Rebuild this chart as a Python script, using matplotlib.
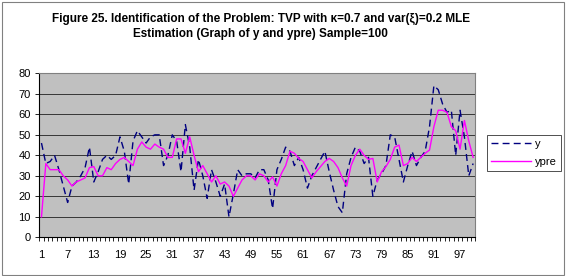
import matplotlib.pyplot as plt
import numpy as np
from matplotlib.patches import Rectangle

plt.rcParams["font.family"] = ["Liberation Sans", "DejaVu Sans"]

sample = np.arange(1, 101)

y = [46, 36, 37, 40, 33, 25, 17, 25, 27, 30,
     34, 44, 27, 32, 38, 40, 38, 40, 49, 42,
     26, 47, 52, 49, 46, 49, 50, 50, 35, 40,
     50, 47, 32, 55, 44, 23, 38, 30, 19, 33,
     27, 20, 26, 10, 21, 33, 30, 31, 31, 29,
     33, 33, 28, 14, 33, 38, 44, 42, 35, 39,
     33, 24, 30, 34, 38, 42, 32, 23, 15, 12,
     31, 39, 44, 42, 36, 39, 20, 28, 31, 35,
     50, 49, 38, 27, 35, 42, 35, 39, 42, 54,
     74, 72, 65, 61, 62, 40, 62, 49, 30, 36]

ypre = [10, 36, 33, 33, 33, 30, 28, 25, 27, 28,
        29, 34, 34.5, 30, 30, 34, 33, 36, 38, 39,
        37, 35, 43, 46.5, 44, 43, 45.5, 44, 43, 39,
        39, 48, 48, 41, 49, 40, 32, 35, 31, 27,
        30, 26, 27, 25, 20, 24, 28, 30, 30, 28,
        31, 30, 27, 29.5, 25, 31, 35, 42, 41, 38.5,
        37, 33, 29, 32, 34.5, 37, 38.5, 37, 34, 29,
        25, 35, 40, 43, 40, 38, 38.5, 27, 32, 34.5,
        38, 44, 45, 35, 36, 39, 37, 39, 41, 42.6,
        54, 62, 62, 61, 54, 52, 43, 57, 47, 39]

x_labels = np.arange(1, 101, 6)
y_ticks = np.arange(0, 81, 10)

title = ("Figure 25. Identification of the Problem: TVP with \u03ba=0.7 and var(\u03be)=0.2 MLE\n"
         "Estimation (Graph of y and ypre) Sample=100")

fig = plt.figure(figsize=(5.67, 2.76), dpi=100)
fig.patches.append(Rectangle((0.004, 0.004), 0.99, 0.99, transform=fig.transFigure,
                             fill=False, edgecolor="#808080", linewidth=0.8))

ax = fig.add_axes([0.0693, 0.1402, 0.769, 0.594])
ax.set_facecolor("#C0C0C0")

ax.plot(sample, y, color="#000080", linewidth=1.0, dashes=(5, 3), label="y")
ax.plot(sample, ypre, color="#FF00FF", linewidth=1.0, label="ypre")

ax.set_xlim(0.5, 100.5)
ax.set_ylim(0, 80)
ax.set_yticks(y_ticks)
ax.set_xticks(x_labels)
ax.set_xticks(np.arange(0.5, 101, 1), minor=True)
ax.tick_params(axis="x", which="major", length=0, labelsize=8, pad=9)
ax.tick_params(axis="x", which="minor", length=3, width=0.6, direction="out")
ax.tick_params(axis="y", length=3, width=0.6, labelsize=8, pad=3)
ax.grid(axis="y", color="#202020", linewidth=0.6)
ax.set_axisbelow(True)

for side in ["top", "right"]:
    ax.spines[side].set_color("#808080")
    ax.spines[side].set_linewidth(0.8)
for side in ["left", "bottom"]:
    ax.spines[side].set_color("black")
    ax.spines[side].set_linewidth(0.8)

fig.text(0.46, 0.905, title, ha="center", va="center", fontsize=8.5,
         fontweight="bold", linespacing=1.35)

leg = fig.legend(loc="upper left", bbox_to_anchor=(0.859, 0.511), fontsize=8,
                 frameon=True, fancybox=False, edgecolor="black", handlelength=3.6,
                 borderpad=0.35, labelspacing=0.7, handletextpad=0.35,
                 borderaxespad=0)
leg.get_frame().set_linewidth(0.6)

fig.savefig("out.png", dpi=100)
